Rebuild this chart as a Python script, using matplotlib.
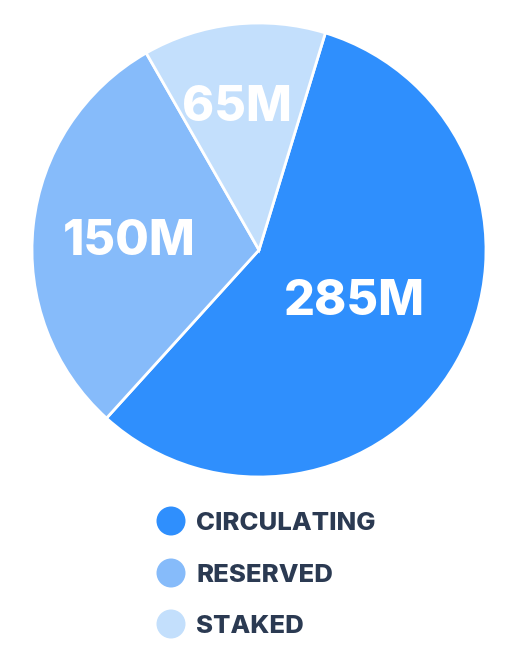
import matplotlib
matplotlib.use("Agg")
import matplotlib.pyplot as plt
from matplotlib.patches import Circle

categories = ["CIRCULATING", "RESERVED", "STAKED"]
values = [285, 150, 65]
value_labels = ["285M", "150M", "65M"]
colors = ["#2F8FFD", "#86BBFA", "#C3DFFC"]

W, H = 521, 661
fig = plt.figure(figsize=(W / 100, H / 100), dpi=100)
ax = fig.add_axes([0, 0, 1, 1])

cx, cy, r = 259, H - 250, 227
wedges, _ = ax.pie(values, colors=colors, startangle=73, counterclock=False,
                   center=(cx, cy), radius=r,
                   wedgeprops=dict(edgecolor="white", linewidth=2))
ax.set_xlim(0, W)
ax.set_ylim(0, H)
ax.set_aspect("equal")
ax.axis("off")

label_pos = [(354, 297), (129, 237), (237, 103)]
for (px, py), lab in zip(label_pos, value_labels):
    ax.text(px, H - py, lab, color="white", fontsize=35, fontweight=800,
            family=["Inter", "DejaVu Sans"], ha="center", va="center_baseline")

leg_y = [521, 573, 624]
for c, name, y in zip(colors, categories, leg_y):
    ax.add_patch(Circle((171, H - y), 14.5, color=c, lw=0))
    ax.text(196, H - y, name, color="#2B3A52", fontsize=18.5, fontweight=800,
            family=["Inter", "DejaVu Sans"], ha="left", va="center_baseline")

fig.savefig("out.png", dpi=100)
